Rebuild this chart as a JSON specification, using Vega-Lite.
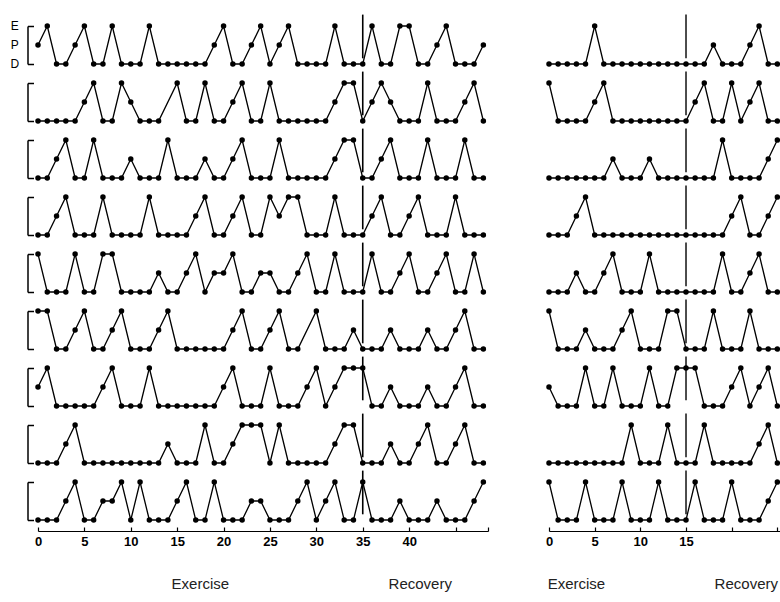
{
"$schema":"https://vega.github.io/schema/vega-lite/v6.json",
"padding":{"left":10,"top":13,"right":0,"bottom":0},
"background":"white",
"config":{"view":{"stroke":null},"axisY":{"grid":false,"domainColor":"black","domainWidth":1.5,"tickColor":"black","tickWidth":1.5,"tickSize":-6,"labels":false},"axisX":{"grid":false,"domainColor":"black","domainWidth":1.2,"tickColor":"black","tickWidth":1.2,"tickSize":-4,"labelFont":"Liberation Sans","labelFontSize":13,"labelFontWeight":"bold","labelColor":"black","labelPadding":8,"labelFlush":false,"labelOverlap":false}},
"datasets":{
"L":[
{"t":1,"x":0,"v":1},{"t":1,"x":1,"v":2},{"t":1,"x":2,"v":0},{"t":1,"x":3,"v":0},{"t":1,"x":4,"v":1},{"t":1,"x":5,"v":2},{"t":1,"x":6,"v":0},{"t":1,"x":7,"v":0},{"t":1,"x":8,"v":2},{"t":1,"x":9,"v":0},
{"t":1,"x":10,"v":0},{"t":1,"x":11,"v":0},{"t":1,"x":12,"v":2},{"t":1,"x":13,"v":0},{"t":1,"x":14,"v":0},{"t":1,"x":15,"v":0},{"t":1,"x":16,"v":0},{"t":1,"x":17,"v":0},{"t":1,"x":18,"v":0},{"t":1,"x":19,"v":1},
{"t":1,"x":20,"v":2},{"t":1,"x":21,"v":0},{"t":1,"x":22,"v":0},{"t":1,"x":23,"v":1},{"t":1,"x":24,"v":2},{"t":1,"x":25,"v":0},{"t":1,"x":26,"v":1},{"t":1,"x":27,"v":2},{"t":1,"x":28,"v":0},{"t":1,"x":29,"v":0},
{"t":1,"x":30,"v":0},{"t":1,"x":31,"v":0},{"t":1,"x":32,"v":2},{"t":1,"x":33,"v":0},{"t":1,"x":34,"v":0},{"t":1,"x":35,"v":0},{"t":1,"x":36,"v":2},{"t":1,"x":37,"v":0},{"t":1,"x":38,"v":0},{"t":1,"x":39,"v":2},
{"t":1,"x":40,"v":2},{"t":1,"x":41,"v":0},{"t":1,"x":42,"v":0},{"t":1,"x":43,"v":1},{"t":1,"x":44,"v":2},{"t":1,"x":45,"v":0},{"t":1,"x":46,"v":0},{"t":1,"x":47,"v":0},{"t":1,"x":48,"v":1},
{"t":2,"x":0,"v":0},{"t":2,"x":1,"v":0},{"t":2,"x":2,"v":0},{"t":2,"x":3,"v":0},{"t":2,"x":4,"v":0},{"t":2,"x":5,"v":1},{"t":2,"x":6,"v":2},{"t":2,"x":7,"v":0},{"t":2,"x":8,"v":0},{"t":2,"x":9,"v":2},
{"t":2,"x":10,"v":1},{"t":2,"x":11,"v":0},{"t":2,"x":12,"v":0},{"t":2,"x":13,"v":0},{"t":2,"x":15,"v":2},{"t":2,"x":16,"v":0},{"t":2,"x":17,"v":0},{"t":2,"x":18,"v":2},{"t":2,"x":19,"v":0},
{"t":2,"x":20,"v":0},{"t":2,"x":21,"v":1},{"t":2,"x":22,"v":2},{"t":2,"x":23,"v":0},{"t":2,"x":24,"v":0},{"t":2,"x":25,"v":2},{"t":2,"x":26,"v":0},{"t":2,"x":27,"v":0},{"t":2,"x":28,"v":0},{"t":2,"x":29,"v":0},
{"t":2,"x":30,"v":0},{"t":2,"x":31,"v":0},{"t":2,"x":32,"v":1},{"t":2,"x":33,"v":2},{"t":2,"x":34,"v":2},{"t":2,"x":35,"v":0},{"t":2,"x":36,"v":1},{"t":2,"x":37,"v":2},{"t":2,"x":38,"v":1},{"t":2,"x":39,"v":0},
{"t":2,"x":40,"v":0},{"t":2,"x":41,"v":0},{"t":2,"x":42,"v":2},{"t":2,"x":43,"v":0},{"t":2,"x":44,"v":0},{"t":2,"x":45,"v":0},{"t":2,"x":46,"v":1},{"t":2,"x":47,"v":2},{"t":2,"x":48,"v":0},
{"t":3,"x":0,"v":0},{"t":3,"x":1,"v":0},{"t":3,"x":2,"v":1},{"t":3,"x":3,"v":2},{"t":3,"x":4,"v":0},{"t":3,"x":5,"v":0},{"t":3,"x":6,"v":2},{"t":3,"x":7,"v":0},{"t":3,"x":8,"v":0},{"t":3,"x":9,"v":0},
{"t":3,"x":10,"v":1},{"t":3,"x":11,"v":0},{"t":3,"x":12,"v":0},{"t":3,"x":13,"v":0},{"t":3,"x":14,"v":2},{"t":3,"x":15,"v":0},{"t":3,"x":16,"v":0},{"t":3,"x":17,"v":0},{"t":3,"x":18,"v":1},{"t":3,"x":19,"v":0},
{"t":3,"x":20,"v":0},{"t":3,"x":21,"v":1},{"t":3,"x":22,"v":2},{"t":3,"x":23,"v":0},{"t":3,"x":24,"v":0},{"t":3,"x":25,"v":0},{"t":3,"x":26,"v":2},{"t":3,"x":27,"v":0},{"t":3,"x":28,"v":0},{"t":3,"x":29,"v":0},
{"t":3,"x":30,"v":0},{"t":3,"x":31,"v":0},{"t":3,"x":32,"v":1},{"t":3,"x":33,"v":2},{"t":3,"x":34,"v":2},{"t":3,"x":35,"v":0},{"t":3,"x":36,"v":0},{"t":3,"x":37,"v":1},{"t":3,"x":38,"v":2},{"t":3,"x":39,"v":0},
{"t":3,"x":40,"v":0},{"t":3,"x":41,"v":0},{"t":3,"x":42,"v":2},{"t":3,"x":43,"v":0},{"t":3,"x":44,"v":0},{"t":3,"x":45,"v":0},{"t":3,"x":46,"v":2},{"t":3,"x":47,"v":0},{"t":3,"x":48,"v":0},
{"t":4,"x":0,"v":0},{"t":4,"x":1,"v":0},{"t":4,"x":2,"v":1},{"t":4,"x":3,"v":2},{"t":4,"x":4,"v":0},{"t":4,"x":5,"v":0},{"t":4,"x":6,"v":0},{"t":4,"x":7,"v":2},{"t":4,"x":8,"v":0},{"t":4,"x":9,"v":0},
{"t":4,"x":10,"v":0},{"t":4,"x":11,"v":0},{"t":4,"x":12,"v":2},{"t":4,"x":13,"v":0},{"t":4,"x":14,"v":0},{"t":4,"x":15,"v":0},{"t":4,"x":16,"v":0},{"t":4,"x":17,"v":1},{"t":4,"x":18,"v":2},{"t":4,"x":19,"v":0},
{"t":4,"x":20,"v":0},{"t":4,"x":21,"v":1},{"t":4,"x":22,"v":2},{"t":4,"x":23,"v":0},{"t":4,"x":24,"v":0},{"t":4,"x":25,"v":2},{"t":4,"x":26,"v":1},{"t":4,"x":27,"v":2},{"t":4,"x":28,"v":2},{"t":4,"x":29,"v":0},
{"t":4,"x":30,"v":0},{"t":4,"x":31,"v":0},{"t":4,"x":32,"v":2},{"t":4,"x":33,"v":0},{"t":4,"x":34,"v":0},{"t":4,"x":35,"v":0},{"t":4,"x":36,"v":1},{"t":4,"x":37,"v":2},{"t":4,"x":38,"v":0},{"t":4,"x":39,"v":0},
{"t":4,"x":40,"v":1},{"t":4,"x":41,"v":2},{"t":4,"x":42,"v":0},{"t":4,"x":43,"v":0},{"t":4,"x":44,"v":0},{"t":4,"x":45,"v":2},{"t":4,"x":46,"v":0},{"t":4,"x":47,"v":0},{"t":4,"x":48,"v":0},
{"t":5,"x":0,"v":2},{"t":5,"x":1,"v":0},{"t":5,"x":2,"v":0},{"t":5,"x":3,"v":0},{"t":5,"x":4,"v":2},{"t":5,"x":5,"v":0},{"t":5,"x":6,"v":0},{"t":5,"x":7,"v":2},{"t":5,"x":8,"v":2},{"t":5,"x":9,"v":0},
{"t":5,"x":10,"v":0},{"t":5,"x":11,"v":0},{"t":5,"x":12,"v":0},{"t":5,"x":13,"v":1},{"t":5,"x":14,"v":0},{"t":5,"x":15,"v":0},{"t":5,"x":16,"v":1},{"t":5,"x":17,"v":2},{"t":5,"x":18,"v":0},{"t":5,"x":19,"v":1},
{"t":5,"x":20,"v":1},{"t":5,"x":21,"v":2},{"t":5,"x":22,"v":0},{"t":5,"x":23,"v":0},{"t":5,"x":24,"v":1},{"t":5,"x":25,"v":1},{"t":5,"x":26,"v":0},{"t":5,"x":27,"v":0},{"t":5,"x":28,"v":1},{"t":5,"x":29,"v":2},
{"t":5,"x":30,"v":0},{"t":5,"x":31,"v":0},{"t":5,"x":32,"v":2},{"t":5,"x":33,"v":0},{"t":5,"x":34,"v":0},{"t":5,"x":35,"v":0},{"t":5,"x":36,"v":2},{"t":5,"x":37,"v":0},{"t":5,"x":38,"v":0},{"t":5,"x":39,"v":1},
{"t":5,"x":40,"v":2},{"t":5,"x":41,"v":0},{"t":5,"x":42,"v":0},{"t":5,"x":43,"v":1},{"t":5,"x":44,"v":2},{"t":5,"x":45,"v":0},{"t":5,"x":46,"v":0},{"t":5,"x":47,"v":2},{"t":5,"x":48,"v":0},
{"t":6,"x":0,"v":2},{"t":6,"x":1,"v":2},{"t":6,"x":2,"v":0},{"t":6,"x":3,"v":0},{"t":6,"x":4,"v":1},{"t":6,"x":5,"v":2},{"t":6,"x":6,"v":0},{"t":6,"x":7,"v":0},{"t":6,"x":8,"v":1},{"t":6,"x":9,"v":2},
{"t":6,"x":10,"v":0},{"t":6,"x":11,"v":0},{"t":6,"x":12,"v":0},{"t":6,"x":13,"v":1},{"t":6,"x":14,"v":2},{"t":6,"x":15,"v":0},{"t":6,"x":16,"v":0},{"t":6,"x":17,"v":0},{"t":6,"x":18,"v":0},{"t":6,"x":19,"v":0},
{"t":6,"x":20,"v":0},{"t":6,"x":21,"v":1},{"t":6,"x":22,"v":2},{"t":6,"x":23,"v":0},{"t":6,"x":24,"v":0},{"t":6,"x":25,"v":1},{"t":6,"x":26,"v":2},{"t":6,"x":27,"v":0},{"t":6,"x":28,"v":0},
{"t":6,"x":30,"v":2},{"t":6,"x":31,"v":0},{"t":6,"x":32,"v":0},{"t":6,"x":33,"v":0},{"t":6,"x":34,"v":1},{"t":6,"x":35,"v":0},{"t":6,"x":36,"v":0},{"t":6,"x":37,"v":0},{"t":6,"x":38,"v":1},{"t":6,"x":39,"v":0},
{"t":6,"x":40,"v":0},{"t":6,"x":41,"v":0},{"t":6,"x":42,"v":1},{"t":6,"x":43,"v":0},{"t":6,"x":44,"v":0},{"t":6,"x":45,"v":1},{"t":6,"x":46,"v":2},{"t":6,"x":47,"v":0},{"t":6,"x":48,"v":0},
{"t":7,"x":0,"v":1},{"t":7,"x":1,"v":2},{"t":7,"x":2,"v":0},{"t":7,"x":3,"v":0},{"t":7,"x":4,"v":0},{"t":7,"x":5,"v":0},{"t":7,"x":6,"v":0},{"t":7,"x":7,"v":1},{"t":7,"x":8,"v":2},{"t":7,"x":9,"v":0},
{"t":7,"x":10,"v":0},{"t":7,"x":11,"v":0},{"t":7,"x":12,"v":2},{"t":7,"x":13,"v":0},{"t":7,"x":14,"v":0},{"t":7,"x":15,"v":0},{"t":7,"x":16,"v":0},{"t":7,"x":17,"v":0},{"t":7,"x":18,"v":0},{"t":7,"x":19,"v":0},
{"t":7,"x":20,"v":1},{"t":7,"x":21,"v":2},{"t":7,"x":22,"v":0},{"t":7,"x":23,"v":0},{"t":7,"x":24,"v":0},{"t":7,"x":25,"v":2},{"t":7,"x":26,"v":0},{"t":7,"x":27,"v":0},{"t":7,"x":28,"v":0},{"t":7,"x":29,"v":1},
{"t":7,"x":30,"v":2},{"t":7,"x":31,"v":0},{"t":7,"x":32,"v":1},{"t":7,"x":33,"v":2},{"t":7,"x":34,"v":2},{"t":7,"x":35,"v":2},{"t":7,"x":36,"v":0},{"t":7,"x":37,"v":0},{"t":7,"x":38,"v":1},{"t":7,"x":39,"v":0},
{"t":7,"x":40,"v":0},{"t":7,"x":41,"v":0},{"t":7,"x":42,"v":1},{"t":7,"x":43,"v":0},{"t":7,"x":44,"v":0},{"t":7,"x":45,"v":1},{"t":7,"x":46,"v":2},{"t":7,"x":47,"v":0},{"t":7,"x":48,"v":0},
{"t":8,"x":0,"v":0},{"t":8,"x":1,"v":0},{"t":8,"x":2,"v":0},{"t":8,"x":3,"v":1},{"t":8,"x":4,"v":2},{"t":8,"x":5,"v":0},{"t":8,"x":6,"v":0},{"t":8,"x":7,"v":0},{"t":8,"x":8,"v":0},{"t":8,"x":9,"v":0},
{"t":8,"x":10,"v":0},{"t":8,"x":11,"v":0},{"t":8,"x":12,"v":0},{"t":8,"x":13,"v":0},{"t":8,"x":14,"v":1},{"t":8,"x":15,"v":0},{"t":8,"x":16,"v":0},{"t":8,"x":17,"v":0},{"t":8,"x":18,"v":2},{"t":8,"x":19,"v":0},
{"t":8,"x":20,"v":0},{"t":8,"x":21,"v":1},{"t":8,"x":22,"v":2},{"t":8,"x":23,"v":2},{"t":8,"x":24,"v":2},{"t":8,"x":25,"v":0},{"t":8,"x":26,"v":2},{"t":8,"x":27,"v":0},{"t":8,"x":28,"v":0},{"t":8,"x":29,"v":0},
{"t":8,"x":30,"v":0},{"t":8,"x":31,"v":0},{"t":8,"x":32,"v":1},{"t":8,"x":33,"v":2},{"t":8,"x":34,"v":2},{"t":8,"x":35,"v":0},{"t":8,"x":36,"v":0},{"t":8,"x":37,"v":0},{"t":8,"x":38,"v":1},{"t":8,"x":39,"v":0},
{"t":8,"x":40,"v":0},{"t":8,"x":41,"v":1},{"t":8,"x":42,"v":2},{"t":8,"x":43,"v":0},{"t":8,"x":44,"v":0},{"t":8,"x":45,"v":1},{"t":8,"x":46,"v":2},{"t":8,"x":47,"v":0},{"t":8,"x":48,"v":0},
{"t":9,"x":0,"v":0},{"t":9,"x":1,"v":0},{"t":9,"x":2,"v":0},{"t":9,"x":3,"v":1},{"t":9,"x":4,"v":2},{"t":9,"x":5,"v":0},{"t":9,"x":6,"v":0},{"t":9,"x":7,"v":1},{"t":9,"x":8,"v":1},{"t":9,"x":9,"v":2},
{"t":9,"x":10,"v":0},{"t":9,"x":11,"v":2},{"t":9,"x":12,"v":0},{"t":9,"x":13,"v":0},{"t":9,"x":14,"v":0},{"t":9,"x":15,"v":1},{"t":9,"x":16,"v":2},{"t":9,"x":17,"v":0},{"t":9,"x":18,"v":0},{"t":9,"x":19,"v":2},
{"t":9,"x":20,"v":0},{"t":9,"x":21,"v":0},{"t":9,"x":22,"v":0},{"t":9,"x":23,"v":1},{"t":9,"x":24,"v":1},{"t":9,"x":25,"v":0},{"t":9,"x":26,"v":0},{"t":9,"x":27,"v":0},{"t":9,"x":28,"v":1},{"t":9,"x":29,"v":2},
{"t":9,"x":30,"v":0},{"t":9,"x":31,"v":1},{"t":9,"x":32,"v":2},{"t":9,"x":33,"v":0},{"t":9,"x":34,"v":0},{"t":9,"x":35,"v":2},{"t":9,"x":36,"v":0},{"t":9,"x":37,"v":0},{"t":9,"x":38,"v":0},{"t":9,"x":39,"v":1},
{"t":9,"x":40,"v":0},{"t":9,"x":41,"v":0},{"t":9,"x":42,"v":0},{"t":9,"x":43,"v":1},{"t":9,"x":44,"v":0},{"t":9,"x":45,"v":0},{"t":9,"x":46,"v":0},{"t":9,"x":47,"v":1},{"t":9,"x":48,"v":2}
],
"R":[
{"t":1,"x":0,"v":0},{"t":1,"x":1,"v":0},{"t":1,"x":2,"v":0},{"t":1,"x":3,"v":0},{"t":1,"x":4,"v":0},{"t":1,"x":5,"v":2},{"t":1,"x":6,"v":0},{"t":1,"x":7,"v":0},{"t":1,"x":8,"v":0},{"t":1,"x":9,"v":0},
{"t":1,"x":10,"v":0},{"t":1,"x":11,"v":0},{"t":1,"x":12,"v":0},{"t":1,"x":13,"v":0},{"t":1,"x":14,"v":0},{"t":1,"x":15,"v":0},{"t":1,"x":16,"v":0},{"t":1,"x":17,"v":0},{"t":1,"x":18,"v":1},{"t":1,"x":19,"v":0},
{"t":1,"x":20,"v":0},{"t":1,"x":21,"v":0},{"t":1,"x":22,"v":1},{"t":1,"x":23,"v":2},{"t":1,"x":24,"v":0},{"t":1,"x":25,"v":0},
{"t":2,"x":0,"v":2},{"t":2,"x":1,"v":0},{"t":2,"x":2,"v":0},{"t":2,"x":3,"v":0},{"t":2,"x":4,"v":0},{"t":2,"x":5,"v":1},{"t":2,"x":6,"v":2},{"t":2,"x":7,"v":0},{"t":2,"x":8,"v":0},{"t":2,"x":9,"v":0},
{"t":2,"x":10,"v":0},{"t":2,"x":11,"v":0},{"t":2,"x":12,"v":0},{"t":2,"x":13,"v":0},{"t":2,"x":14,"v":0},{"t":2,"x":15,"v":0},{"t":2,"x":16,"v":1},{"t":2,"x":17,"v":2},{"t":2,"x":18,"v":0},{"t":2,"x":19,"v":0},
{"t":2,"x":20,"v":2},{"t":2,"x":21,"v":0},{"t":2,"x":22,"v":1},{"t":2,"x":23,"v":2},{"t":2,"x":24,"v":0},{"t":2,"x":25,"v":0},
{"t":3,"x":0,"v":0},{"t":3,"x":1,"v":0},{"t":3,"x":2,"v":0},{"t":3,"x":3,"v":0},{"t":3,"x":4,"v":0},{"t":3,"x":5,"v":0},{"t":3,"x":6,"v":0},{"t":3,"x":7,"v":1},{"t":3,"x":8,"v":0},{"t":3,"x":9,"v":0},
{"t":3,"x":10,"v":0},{"t":3,"x":11,"v":1},{"t":3,"x":12,"v":0},{"t":3,"x":13,"v":0},{"t":3,"x":14,"v":0},{"t":3,"x":15,"v":0},{"t":3,"x":16,"v":0},{"t":3,"x":17,"v":0},{"t":3,"x":18,"v":0},{"t":3,"x":19,"v":2},
{"t":3,"x":20,"v":0},{"t":3,"x":21,"v":0},{"t":3,"x":22,"v":0},{"t":3,"x":23,"v":0},{"t":3,"x":24,"v":1},{"t":3,"x":25,"v":2},
{"t":4,"x":0,"v":0},{"t":4,"x":1,"v":0},{"t":4,"x":2,"v":0},{"t":4,"x":3,"v":1},{"t":4,"x":4,"v":2},{"t":4,"x":5,"v":0},{"t":4,"x":6,"v":0},{"t":4,"x":7,"v":0},{"t":4,"x":8,"v":0},{"t":4,"x":9,"v":0},
{"t":4,"x":10,"v":0},{"t":4,"x":11,"v":0},{"t":4,"x":12,"v":0},{"t":4,"x":13,"v":0},{"t":4,"x":14,"v":0},{"t":4,"x":15,"v":0},{"t":4,"x":16,"v":0},{"t":4,"x":17,"v":0},{"t":4,"x":18,"v":0},{"t":4,"x":19,"v":0},
{"t":4,"x":20,"v":1},{"t":4,"x":21,"v":2},{"t":4,"x":22,"v":0},{"t":4,"x":23,"v":0},{"t":4,"x":24,"v":1},{"t":4,"x":25,"v":2},
{"t":5,"x":0,"v":0},{"t":5,"x":1,"v":0},{"t":5,"x":2,"v":0},{"t":5,"x":3,"v":1},{"t":5,"x":4,"v":0},{"t":5,"x":5,"v":0},{"t":5,"x":6,"v":1},{"t":5,"x":7,"v":2},{"t":5,"x":8,"v":0},{"t":5,"x":9,"v":0},
{"t":5,"x":10,"v":0},{"t":5,"x":11,"v":2},{"t":5,"x":12,"v":0},{"t":5,"x":13,"v":0},{"t":5,"x":14,"v":0},{"t":5,"x":15,"v":0},{"t":5,"x":16,"v":0},{"t":5,"x":17,"v":0},{"t":5,"x":18,"v":0},{"t":5,"x":19,"v":2},
{"t":5,"x":20,"v":0},{"t":5,"x":21,"v":0},{"t":5,"x":22,"v":1},{"t":5,"x":23,"v":2},{"t":5,"x":24,"v":0},{"t":5,"x":25,"v":0},
{"t":6,"x":0,"v":2},{"t":6,"x":1,"v":0},{"t":6,"x":2,"v":0},{"t":6,"x":3,"v":0},{"t":6,"x":4,"v":1},{"t":6,"x":5,"v":0},{"t":6,"x":6,"v":0},{"t":6,"x":7,"v":0},{"t":6,"x":8,"v":1},{"t":6,"x":9,"v":2},
{"t":6,"x":10,"v":0},{"t":6,"x":11,"v":0},{"t":6,"x":12,"v":0},{"t":6,"x":13,"v":2},{"t":6,"x":14,"v":2},{"t":6,"x":15,"v":0},{"t":6,"x":16,"v":0},{"t":6,"x":17,"v":0},{"t":6,"x":18,"v":2},{"t":6,"x":19,"v":0},
{"t":6,"x":20,"v":0},{"t":6,"x":21,"v":0},{"t":6,"x":22,"v":2},{"t":6,"x":23,"v":0},{"t":6,"x":24,"v":0},{"t":6,"x":25,"v":0},
{"t":7,"x":0,"v":1},{"t":7,"x":1,"v":0},{"t":7,"x":2,"v":0},{"t":7,"x":3,"v":0},{"t":7,"x":4,"v":2},{"t":7,"x":5,"v":0},{"t":7,"x":6,"v":0},{"t":7,"x":7,"v":2},{"t":7,"x":8,"v":0},{"t":7,"x":9,"v":0},
{"t":7,"x":10,"v":0},{"t":7,"x":11,"v":2},{"t":7,"x":12,"v":0},{"t":7,"x":13,"v":0},{"t":7,"x":14,"v":2},{"t":7,"x":15,"v":2},{"t":7,"x":16,"v":2},{"t":7,"x":17,"v":0},{"t":7,"x":18,"v":0},{"t":7,"x":19,"v":0},
{"t":7,"x":20,"v":1},{"t":7,"x":21,"v":2},{"t":7,"x":22,"v":0},{"t":7,"x":23,"v":1},{"t":7,"x":24,"v":2},{"t":7,"x":25,"v":0},
{"t":8,"x":0,"v":0},{"t":8,"x":1,"v":0},{"t":8,"x":2,"v":0},{"t":8,"x":3,"v":0},{"t":8,"x":4,"v":0},{"t":8,"x":5,"v":0},{"t":8,"x":6,"v":0},{"t":8,"x":7,"v":0},{"t":8,"x":8,"v":0},{"t":8,"x":9,"v":2},
{"t":8,"x":10,"v":0},{"t":8,"x":11,"v":0},{"t":8,"x":12,"v":0},{"t":8,"x":13,"v":2},{"t":8,"x":14,"v":0},{"t":8,"x":15,"v":0},{"t":8,"x":16,"v":0},{"t":8,"x":17,"v":2},{"t":8,"x":18,"v":0},{"t":8,"x":19,"v":0},
{"t":8,"x":20,"v":0},{"t":8,"x":21,"v":0},{"t":8,"x":22,"v":0},{"t":8,"x":23,"v":1},{"t":8,"x":24,"v":2},{"t":8,"x":25,"v":0},
{"t":9,"x":0,"v":2},{"t":9,"x":1,"v":0},{"t":9,"x":2,"v":0},{"t":9,"x":3,"v":0},{"t":9,"x":4,"v":2},{"t":9,"x":5,"v":0},{"t":9,"x":6,"v":0},{"t":9,"x":7,"v":0},{"t":9,"x":8,"v":2},{"t":9,"x":9,"v":0},
{"t":9,"x":10,"v":0},{"t":9,"x":11,"v":0},{"t":9,"x":12,"v":2},{"t":9,"x":13,"v":0},{"t":9,"x":14,"v":0},{"t":9,"x":15,"v":0},{"t":9,"x":16,"v":2},{"t":9,"x":17,"v":0},{"t":9,"x":18,"v":0},{"t":9,"x":19,"v":0},
{"t":9,"x":20,"v":2},{"t":9,"x":21,"v":0},{"t":9,"x":22,"v":0},{"t":9,"x":23,"v":0},{"t":9,"x":24,"v":1},{"t":9,"x":25,"v":2}
]},
"spacing":56,
"hconcat":[
{"bounds":"flush","spacing":19,"vconcat":[
{"width":450,"height":38,"layer":[
{"data":{"name":"L"},"transform":[{"filter":"datum.t==1"}],"mark":{"type":"line","color":"black","strokeWidth":1.3,"point":{"filled":true,"size":30,"color":"black","opacity":1}},
"encoding":{"x":{"field":"x","type":"quantitative","scale":{"domain":[0,48.5],"nice":false,"zero":false},"axis":null},"y":{"field":"v","type":"quantitative","scale":{"domain":[0,2],"nice":false},"axis":{"title":null,"values":[0,1,2],"offset":10.5}}}},
{"data":{"values":[{}]},"mark":{"type":"rule","color":"black","strokeWidth":1.6},"encoding":{"x":{"datum":35},"y":{"datum":2.6},"y2":{"datum":0.3}}},
{"data":{"values":[{}]},"mark":{"type":"text","font":"Liberation Sans","fontSize":12,"color":"black"},"encoding":{"x":{"datum":-2.5},"y":{"datum":2},"text":{"value":"E"}}},
{"data":{"values":[{}]},"mark":{"type":"text","font":"Liberation Sans","fontSize":12,"color":"black"},"encoding":{"x":{"datum":-2.5},"y":{"datum":1},"text":{"value":"P"}}},
{"data":{"values":[{}]},"mark":{"type":"text","font":"Liberation Sans","fontSize":12,"color":"black"},"encoding":{"x":{"datum":-2.5},"y":{"datum":0},"text":{"value":"D"}}}]},
{"width":450,"height":38,"layer":[
{"data":{"name":"L"},"transform":[{"filter":"datum.t==2"}],"mark":{"type":"line","color":"black","strokeWidth":1.3,"point":{"filled":true,"size":30,"color":"black","opacity":1}},
"encoding":{"x":{"field":"x","type":"quantitative","scale":{"domain":[0,48.5],"nice":false,"zero":false},"axis":null},"y":{"field":"v","type":"quantitative","scale":{"domain":[0,2],"nice":false},"axis":{"title":null,"values":[0,1,2],"offset":10.5}}}},
{"data":{"values":[{}]},"mark":{"type":"rule","color":"black","strokeWidth":1.6},"encoding":{"x":{"datum":35},"y":{"datum":2.6},"y2":{"datum":0.3}}}]},
{"width":450,"height":38,"layer":[
{"data":{"name":"L"},"transform":[{"filter":"datum.t==3"}],"mark":{"type":"line","color":"black","strokeWidth":1.3,"point":{"filled":true,"size":30,"color":"black","opacity":1}},
"encoding":{"x":{"field":"x","type":"quantitative","scale":{"domain":[0,48.5],"nice":false,"zero":false},"axis":null},"y":{"field":"v","type":"quantitative","scale":{"domain":[0,2],"nice":false},"axis":{"title":null,"values":[0,1,2],"offset":10.5}}}},
{"data":{"values":[{}]},"mark":{"type":"rule","color":"black","strokeWidth":1.6},"encoding":{"x":{"datum":35},"y":{"datum":2.6},"y2":{"datum":0.3}}}]},
{"width":450,"height":38,"layer":[
{"data":{"name":"L"},"transform":[{"filter":"datum.t==4"}],"mark":{"type":"line","color":"black","strokeWidth":1.3,"point":{"filled":true,"size":30,"color":"black","opacity":1}},
"encoding":{"x":{"field":"x","type":"quantitative","scale":{"domain":[0,48.5],"nice":false,"zero":false},"axis":null},"y":{"field":"v","type":"quantitative","scale":{"domain":[0,2],"nice":false},"axis":{"title":null,"values":[0,1,2],"offset":10.5}}}},
{"data":{"values":[{}]},"mark":{"type":"rule","color":"black","strokeWidth":1.6},"encoding":{"x":{"datum":35},"y":{"datum":2.6},"y2":{"datum":0.3}}}]},
{"width":450,"height":38,"layer":[
{"data":{"name":"L"},"transform":[{"filter":"datum.t==5"}],"mark":{"type":"line","color":"black","strokeWidth":1.3,"point":{"filled":true,"size":30,"color":"black","opacity":1}},
"encoding":{"x":{"field":"x","type":"quantitative","scale":{"domain":[0,48.5],"nice":false,"zero":false},"axis":null},"y":{"field":"v","type":"quantitative","scale":{"domain":[0,2],"nice":false},"axis":{"title":null,"values":[0,1,2],"offset":10.5}}}},
{"data":{"values":[{}]},"mark":{"type":"rule","color":"black","strokeWidth":1.6},"encoding":{"x":{"datum":35},"y":{"datum":2.6},"y2":{"datum":0.3}}}]},
{"width":450,"height":38,"layer":[
{"data":{"name":"L"},"transform":[{"filter":"datum.t==6"}],"mark":{"type":"line","color":"black","strokeWidth":1.3,"point":{"filled":true,"size":30,"color":"black","opacity":1}},
"encoding":{"x":{"field":"x","type":"quantitative","scale":{"domain":[0,48.5],"nice":false,"zero":false},"axis":null},"y":{"field":"v","type":"quantitative","scale":{"domain":[0,2],"nice":false},"axis":{"title":null,"values":[0,1,2],"offset":10.5}}}},
{"data":{"values":[{}]},"mark":{"type":"rule","color":"black","strokeWidth":1.6},"encoding":{"x":{"datum":35},"y":{"datum":2.6},"y2":{"datum":0.3}}}]},
{"width":450,"height":38,"layer":[
{"data":{"name":"L"},"transform":[{"filter":"datum.t==7"}],"mark":{"type":"line","color":"black","strokeWidth":1.3,"point":{"filled":true,"size":30,"color":"black","opacity":1}},
"encoding":{"x":{"field":"x","type":"quantitative","scale":{"domain":[0,48.5],"nice":false,"zero":false},"axis":null},"y":{"field":"v","type":"quantitative","scale":{"domain":[0,2],"nice":false},"axis":{"title":null,"values":[0,1,2],"offset":10.5}}}},
{"data":{"values":[{}]},"mark":{"type":"rule","color":"black","strokeWidth":1.6},"encoding":{"x":{"datum":35},"y":{"datum":2.6},"y2":{"datum":0.3}}}]},
{"width":450,"height":38,"layer":[
{"data":{"name":"L"},"transform":[{"filter":"datum.t==8"}],"mark":{"type":"line","color":"black","strokeWidth":1.3,"point":{"filled":true,"size":30,"color":"black","opacity":1}},
"encoding":{"x":{"field":"x","type":"quantitative","scale":{"domain":[0,48.5],"nice":false,"zero":false},"axis":null},"y":{"field":"v","type":"quantitative","scale":{"domain":[0,2],"nice":false},"axis":{"title":null,"values":[0,1,2],"offset":10.5}}}},
{"data":{"values":[{}]},"mark":{"type":"rule","color":"black","strokeWidth":1.6},"encoding":{"x":{"datum":35},"y":{"datum":2.6},"y2":{"datum":0.3}}}]},
{"width":450,"height":38,"layer":[
{"data":{"name":"L"},"transform":[{"filter":"datum.t==9"}],"mark":{"type":"line","color":"black","strokeWidth":1.3,"point":{"filled":true,"size":30,"color":"black","opacity":1}},
"encoding":{"x":{"field":"x","type":"quantitative","scale":{"domain":[0,48.5],"nice":false,"zero":false},"axis":{"title":null,"values":[0,5,10,15,20,25,30,35,40,45,48.5],"labelExpr":"datum.value<=40?datum.label:''","offset":11}},"y":{"field":"v","type":"quantitative","scale":{"domain":[0,2],"nice":false},"axis":{"title":null,"values":[0,1,2],"offset":10.5}}}},
{"data":{"values":[{}]},"mark":{"type":"rule","color":"black","strokeWidth":1.6},"encoding":{"x":{"datum":35},"y":{"datum":2.6},"y2":{"datum":0.3}}},
{"data":{"values":[{}]},"mark":{"type":"text","font":"Liberation Sans","fontSize":15,"color":"#222"},"encoding":{"x":{"datum":17.5},"y":{"datum":-3.37},"text":{"value":"Exercise"}}},
{"data":{"values":[{}]},"mark":{"type":"text","font":"Liberation Sans","fontSize":15,"color":"#222"},"encoding":{"x":{"datum":41.2},"y":{"datum":-3.37},"text":{"value":"Recovery"}}}]}
]},
{"bounds":"flush","spacing":19,"vconcat":[
{"width":232,"height":38,"layer":[
{"data":{"name":"R"},"transform":[{"filter":"datum.t==1"}],"mark":{"type":"line","color":"black","strokeWidth":1.3,"point":{"filled":true,"size":30,"color":"black","opacity":1}},
"encoding":{"x":{"field":"x","type":"quantitative","scale":{"domain":[0,25.4],"nice":false,"zero":false},"axis":null},"y":{"field":"v","type":"quantitative","scale":{"domain":[0,2],"nice":false},"axis":null}}},
{"data":{"values":[{}]},"mark":{"type":"rule","color":"black","strokeWidth":1.4},"encoding":{"x":{"datum":15},"y":{"datum":2.6},"y2":{"datum":0.3}}}]},
{"width":232,"height":38,"layer":[
{"data":{"name":"R"},"transform":[{"filter":"datum.t==2"}],"mark":{"type":"line","color":"black","strokeWidth":1.3,"point":{"filled":true,"size":30,"color":"black","opacity":1}},
"encoding":{"x":{"field":"x","type":"quantitative","scale":{"domain":[0,25.4],"nice":false,"zero":false},"axis":null},"y":{"field":"v","type":"quantitative","scale":{"domain":[0,2],"nice":false},"axis":null}}},
{"data":{"values":[{}]},"mark":{"type":"rule","color":"black","strokeWidth":1.4},"encoding":{"x":{"datum":15},"y":{"datum":2.6},"y2":{"datum":0.3}}}]},
{"width":232,"height":38,"layer":[
{"data":{"name":"R"},"transform":[{"filter":"datum.t==3"}],"mark":{"type":"line","color":"black","strokeWidth":1.3,"point":{"filled":true,"size":30,"color":"black","opacity":1}},
"encoding":{"x":{"field":"x","type":"quantitative","scale":{"domain":[0,25.4],"nice":false,"zero":false},"axis":null},"y":{"field":"v","type":"quantitative","scale":{"domain":[0,2],"nice":false},"axis":null}}},
{"data":{"values":[{}]},"mark":{"type":"rule","color":"black","strokeWidth":1.4},"encoding":{"x":{"datum":15},"y":{"datum":2.6},"y2":{"datum":0.3}}}]},
{"width":232,"height":38,"layer":[
{"data":{"name":"R"},"transform":[{"filter":"datum.t==4"}],"mark":{"type":"line","color":"black","strokeWidth":1.3,"point":{"filled":true,"size":30,"color":"black","opacity":1}},
"encoding":{"x":{"field":"x","type":"quantitative","scale":{"domain":[0,25.4],"nice":false,"zero":false},"axis":null},"y":{"field":"v","type":"quantitative","scale":{"domain":[0,2],"nice":false},"axis":null}}},
{"data":{"values":[{}]},"mark":{"type":"rule","color":"black","strokeWidth":1.4},"encoding":{"x":{"datum":15},"y":{"datum":2.6},"y2":{"datum":0.3}}}]},
{"width":232,"height":38,"layer":[
{"data":{"name":"R"},"transform":[{"filter":"datum.t==5"}],"mark":{"type":"line","color":"black","strokeWidth":1.3,"point":{"filled":true,"size":30,"color":"black","opacity":1}},
"encoding":{"x":{"field":"x","type":"quantitative","scale":{"domain":[0,25.4],"nice":false,"zero":false},"axis":null},"y":{"field":"v","type":"quantitative","scale":{"domain":[0,2],"nice":false},"axis":null}}},
{"data":{"values":[{}]},"mark":{"type":"rule","color":"black","strokeWidth":1.4},"encoding":{"x":{"datum":15},"y":{"datum":2.6},"y2":{"datum":0.3}}}]},
{"width":232,"height":38,"layer":[
{"data":{"name":"R"},"transform":[{"filter":"datum.t==6"}],"mark":{"type":"line","color":"black","strokeWidth":1.3,"point":{"filled":true,"size":30,"color":"black","opacity":1}},
"encoding":{"x":{"field":"x","type":"quantitative","scale":{"domain":[0,25.4],"nice":false,"zero":false},"axis":null},"y":{"field":"v","type":"quantitative","scale":{"domain":[0,2],"nice":false},"axis":null}}},
{"data":{"values":[{}]},"mark":{"type":"rule","color":"black","strokeWidth":1.4},"encoding":{"x":{"datum":15},"y":{"datum":2.6},"y2":{"datum":0.3}}}]},
{"width":232,"height":38,"layer":[
{"data":{"name":"R"},"transform":[{"filter":"datum.t==7"}],"mark":{"type":"line","color":"black","strokeWidth":1.3,"point":{"filled":true,"size":30,"color":"black","opacity":1}},
"encoding":{"x":{"field":"x","type":"quantitative","scale":{"domain":[0,25.4],"nice":false,"zero":false},"axis":null},"y":{"field":"v","type":"quantitative","scale":{"domain":[0,2],"nice":false},"axis":null}}},
{"data":{"values":[{}]},"mark":{"type":"rule","color":"black","strokeWidth":1.4},"encoding":{"x":{"datum":15},"y":{"datum":2.6},"y2":{"datum":0.3}}}]},
{"width":232,"height":38,"layer":[
{"data":{"name":"R"},"transform":[{"filter":"datum.t==8"}],"mark":{"type":"line","color":"black","strokeWidth":1.3,"point":{"filled":true,"size":30,"color":"black","opacity":1}},
"encoding":{"x":{"field":"x","type":"quantitative","scale":{"domain":[0,25.4],"nice":false,"zero":false},"axis":null},"y":{"field":"v","type":"quantitative","scale":{"domain":[0,2],"nice":false},"axis":null}}},
{"data":{"values":[{}]},"mark":{"type":"rule","color":"black","strokeWidth":1.4},"encoding":{"x":{"datum":15},"y":{"datum":2.6},"y2":{"datum":0.3}}}]},
{"width":232,"height":38,"layer":[
{"data":{"name":"R"},"transform":[{"filter":"datum.t==9"}],"mark":{"type":"line","color":"black","strokeWidth":1.3,"point":{"filled":true,"size":30,"color":"black","opacity":1}},
"encoding":{"x":{"field":"x","type":"quantitative","scale":{"domain":[0,25.4],"nice":false,"zero":false},"axis":{"title":null,"values":[0,5,10,15,20,25],"labelExpr":"datum.value<=15?datum.label:''","offset":11}},"y":{"field":"v","type":"quantitative","scale":{"domain":[0,2],"nice":false},"axis":null}}},
{"data":{"values":[{}]},"mark":{"type":"rule","color":"black","strokeWidth":1.4},"encoding":{"x":{"datum":15},"y":{"datum":2.6},"y2":{"datum":0.3}}},
{"data":{"values":[{}]},"mark":{"type":"text","font":"Liberation Sans","fontSize":15,"color":"#222"},"encoding":{"x":{"datum":3},"y":{"datum":-3.37},"text":{"value":"Exercise"}}},
{"data":{"values":[{}]},"mark":{"type":"text","font":"Liberation Sans","fontSize":15,"color":"#222"},"encoding":{"x":{"datum":21.6},"y":{"datum":-3.37},"text":{"value":"Recovery"}}}]}
]}
]
}
